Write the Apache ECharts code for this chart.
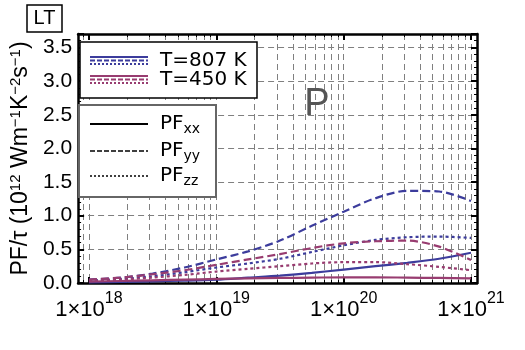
<!DOCTYPE html>
<html>
<head>
<meta charset="utf-8">
<script src="https://cdn.jsdelivr.net/npm/echarts@6/dist/echarts.min.js"></script>
<style>
  html, body { margin: 0; padding: 0; background: #fff; }
  #chart { width: 525px; height: 350px; }
</style>
</head>
<body>
<div id="chart"></div>
<script>
// log10 of carrier concentration (cm^-3)
const logN = [18, 18.25, 18.5, 18.75, 19, 19.25, 19.5, 19.75, 20, 20.25, 20.5, 20.75, 21];

// PF/tau, 10^12 W m^-1 K^-2 s^-1
const pfxx807 = [0.01, 0.015, 0.025, 0.035, 0.05, 0.08, 0.11, 0.15, 0.2, 0.25, 0.3, 0.36, 0.45];
const pfyy807 = [0.05, 0.08, 0.14, 0.23, 0.35, 0.47, 0.63, 0.85, 1.06, 1.26, 1.37, 1.36, 1.22];
const pfzz807 = [0.04, 0.06, 0.1, 0.16, 0.23, 0.29, 0.36, 0.46, 0.56, 0.64, 0.68, 0.69, 0.67];
const pfxx450 = [0.02, 0.03, 0.04, 0.05, 0.06, 0.07, 0.075, 0.08, 0.085, 0.085, 0.08, 0.075, 0.07];
const pfyy450 = [0.05, 0.08, 0.13, 0.19, 0.27, 0.35, 0.43, 0.52, 0.59, 0.62, 0.63, 0.54, 0.34];
const pfzz450 = [0.03, 0.05, 0.08, 0.12, 0.17, 0.21, 0.25, 0.29, 0.31, 0.31, 0.28, 0.24, 0.19];

// axis ticks
const decadeTicks = [18, 19, 20, 21];
const yTicks = [0, 0.5, 1, 1.5, 2, 2.5, 3, 3.5];
const minorTicks = [];
for (let e = 17; e <= 20; e++) {
  for (let k = 1; k <= 9; k++) {
    const v = e + Math.log10(k);
    if (v >= 17.9 && v <= 21.05) minorTicks.push(v);
  }
}
minorTicks.push(21);

const blue = '#3c3c9c';
const red = '#983c70';
const font = 'Liberation Sans, Arial, sans-serif';
const lfont = 'DejaVu Sans, sans-serif';

const chartDom = document.getElementById('chart');
const myChart = echarts.init(chartDom);

function line(name, data, color, type) {
  return {
    name: name,
    type: 'line',
    smooth: 0.3,
    symbol: 'none',
    z: 3,
    data: logN.map((x, i) => [x, data[i]]),
    lineStyle: { color: color, width: 2.2, type: type }
  };
}

const xBase = { type: 'value', min: 17.915, max: 21.047, gridIndex: 0 };
const yBase = { type: 'value', min: 0, max: 3.7, interval: 0.5, gridIndex: 0 };

const option = {
  animation: false,
  grid: { left: 73, top: 34, right: 48, bottom: 67 },
  xAxis: [
    Object.assign({}, xBase, {
      position: 'bottom',
      axisLine: { lineStyle: { color: '#000', width: 2.5 } },
      axisTick: { inside: true, length: 6, customValues: decadeTicks, lineStyle: { color: '#000', width: 2 } },
      axisLabel: {
        customValues: decadeTicks,
        margin: 8,
        formatter: v => '{a|1×10}{s|' + Math.round(v) + '}',
        rich: {
          a: { fontSize: 22, fontFamily: font, color: '#000', padding: [8, 0, 0, 0] },
          s: { fontSize: 16, fontFamily: font, color: '#000', verticalAlign: 'top' }
        }
      },
      splitLine: { show: false }
    }),
    Object.assign({}, xBase, {
      position: 'bottom',
      axisLine: { show: false },
      axisTick: { inside: true, length: 3, customValues: minorTicks, lineStyle: { color: '#000', width: 1 } },
      axisLabel: { show: false },
      splitLine: { show: true, lineStyle: { color: '#808080', width: 1, type: [6, 4] } }
    }),
    Object.assign({}, xBase, {
      position: 'top',
      axisLine: { lineStyle: { color: '#000', width: 2.5 } },
      axisTick: { inside: true, length: 6, customValues: decadeTicks, lineStyle: { color: '#000', width: 2 } },
      axisLabel: { show: false },
      splitLine: { show: false }
    }),
    Object.assign({}, xBase, {
      position: 'top',
      axisLine: { show: false },
      axisTick: { inside: true, length: 3, customValues: minorTicks, lineStyle: { color: '#000', width: 1 } },
      axisLabel: { show: false },
      splitLine: { show: false }
    })
  ],
  yAxis: [
    Object.assign({}, yBase, {
      position: 'left',
      name: 'PF/τ (10{s|12} Wm{s|−1}K{s|−2}s{s|−1})',
      nameLocation: 'middle',
      nameRotate: 90,
      nameGap: 42,
      nameTextStyle: {
        fontSize: 23, fontFamily: font, color: '#000',
        rich: {
          s: { fontSize: 15, fontFamily: font, color: '#000', verticalAlign: 'top', padding: [0, 0, 10, 0] }
        }
      },
      axisLine: { lineStyle: { color: '#000', width: 2.5 } },
      axisTick: { inside: true, length: 6, lineStyle: { color: '#000', width: 2 } },
      minorTick: { show: true, splitNumber: 5, length: 3, lineStyle: { color: '#000', width: 1 } },
      axisLabel: {
        customValues: yTicks,
        margin: 6,
        fontSize: 21, fontFamily: font, color: '#000',
        formatter: v => v.toFixed(1)
      },
      splitLine: { show: true, lineStyle: { color: '#808080', width: 1, type: [6, 4] } }
    }),
    Object.assign({}, yBase, {
      position: 'right',
      axisLine: { lineStyle: { color: '#000', width: 2.5 } },
      axisTick: { inside: true, length: 6, lineStyle: { color: '#000', width: 2 } },
      minorTick: { show: true, splitNumber: 5, length: 3, lineStyle: { color: '#000', width: 1 } },
      axisLabel: { show: false },
      splitLine: { show: false }
    })
  ],
  series: [
    line('PFxx 807 K', pfxx807, blue, 'solid'),
    line('PFyy 807 K', pfyy807, blue, [8, 4]),
    line('PFzz 807 K', pfzz807, blue, [3, 3]),
    line('PFxx 450 K', pfxx450, red, 'solid'),
    line('PFyy 450 K', pfyy450, red, [8, 4]),
    line('PFzz 450 K', pfzz450, red, [3, 3])
  ],
  graphic: [
    // LT label
    { type: 'rect', shape: { x: 27, y: 5, width: 35, height: 27 }, style: { fill: '#fff', stroke: '#000', lineWidth: 1.5 } },
    { type: 'text', x: 44.5, y: 18.5, style: { text: 'LT', font: '20px ' + font, fill: '#000', align: 'center', verticalAlign: 'middle' } },
    // big P
    { type: 'text', x: 317, y: 105, z: 10, style: { text: 'P', font: '38px ' + font, fill: '#555', align: 'center', verticalAlign: 'middle' } },
    // temperature legend
    { type: 'rect', z: 10, shape: { x: 80, y: 42, width: 177, height: 56 }, style: { fill: '#fff', stroke: '#000', lineWidth: 1.5 } },
    { type: 'line', z: 11, shape: { x1: 90, y1: 57, x2: 148, y2: 57 }, style: { stroke: blue, lineWidth: 2 } },
    { type: 'line', z: 11, shape: { x1: 90, y1: 60.5, x2: 148, y2: 60.5 }, style: { stroke: blue, lineWidth: 2, lineDash: [5, 2] } },
    { type: 'line', z: 11, shape: { x1: 90, y1: 64, x2: 148, y2: 64 }, style: { stroke: blue, lineWidth: 2, lineDash: [2, 2] } },
    { type: 'line', z: 11, shape: { x1: 90, y1: 76, x2: 148, y2: 76 }, style: { stroke: red, lineWidth: 2 } },
    { type: 'line', z: 11, shape: { x1: 90, y1: 79.5, x2: 148, y2: 79.5 }, style: { stroke: red, lineWidth: 2, lineDash: [5, 2] } },
    { type: 'line', z: 11, shape: { x1: 90, y1: 83, x2: 148, y2: 83 }, style: { stroke: red, lineWidth: 2, lineDash: [2, 2] } },
    { type: 'text', z: 11, x: 160, y: 61, style: { text: 'T=807 K', font: '20px ' + lfont, fill: '#000', verticalAlign: 'middle' } },
    { type: 'text', z: 11, x: 160, y: 80, style: { text: 'T=450 K', font: '20px ' + lfont, fill: '#000', verticalAlign: 'middle' } },
    // component legend
    { type: 'rect', z: 10, shape: { x: 79, y: 105, width: 137, height: 92 }, style: { fill: '#fff', stroke: '#666', lineWidth: 2 } },
    { type: 'line', z: 11, shape: { x1: 90, y1: 124, x2: 148, y2: 124 }, style: { stroke: '#000', lineWidth: 2 } },
    { type: 'line', z: 11, shape: { x1: 90, y1: 151, x2: 148, y2: 151 }, style: { stroke: '#000', lineWidth: 1.5, lineDash: [5, 2] } },
    { type: 'line', z: 11, shape: { x1: 90, y1: 176, x2: 148, y2: 176 }, style: { stroke: '#000', lineWidth: 1.5, lineDash: [2, 2] } },
    { type: 'text', z: 11, x: 160, y: 124, style: { text: '{a|PF}{s|xx}', verticalAlign: 'middle',
      rich: { a: { font: '20px ' + lfont, fill: '#000' }, s: { font: '14px ' + lfont, fill: '#000', verticalAlign: 'bottom', padding: [10, 0, 0, 0] } } } },
    { type: 'text', z: 11, x: 160, y: 151, style: { text: '{a|PF}{s|yy}', verticalAlign: 'middle',
      rich: { a: { font: '20px ' + lfont, fill: '#000' }, s: { font: '14px ' + lfont, fill: '#000', verticalAlign: 'bottom', padding: [10, 0, 0, 0] } } } },
    { type: 'text', z: 11, x: 160, y: 176, style: { text: '{a|PF}{s|zz}', verticalAlign: 'middle',
      rich: { a: { font: '20px ' + lfont, fill: '#000' }, s: { font: '14px ' + lfont, fill: '#000', verticalAlign: 'bottom', padding: [10, 0, 0, 0] } } } }
  ]
};

myChart.setOption(option);
window.addEventListener('resize', () => myChart.resize());
</script>
</body>
</html>
